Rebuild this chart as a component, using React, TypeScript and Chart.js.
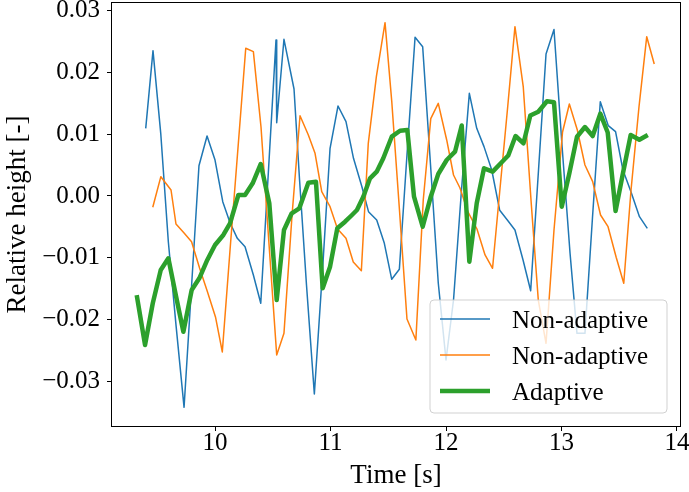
import React, { useEffect, useRef } from 'react';
import { Chart, registerables } from 'chart.js';

Chart.register(...registerables);

// ---- data ----
const blueT = [9.400, 9.463, 9.530, 9.596, 9.662, 9.732, 9.797, 9.861, 9.931, 10.000, 10.067, 10.130, 10.193, 10.260, 10.332, 10.396, 10.463, 10.528, 10.534, 10.597, 10.684, 10.732, 10.792, 10.860, 10.931, 10.996, 11.065, 11.134, 11.199, 11.270, 11.329, 11.400, 11.466, 11.530, 11.596, 11.662, 11.732, 11.798, 11.866, 11.933, 12.000, 12.065, 12.134, 12.202, 12.266, 12.329, 12.396, 12.465, 12.531, 12.597, 12.667, 12.733, 12.801, 12.866, 12.935, 13.004, 13.074, 13.134, 13.203, 13.268, 13.336, 13.405, 13.468, 13.532, 13.602, 13.675, 13.743];
const blueY = [0.01097, 0.02355, 0.01016, -0.00746, -0.0209, -0.03425, -0.01459, 0.00491, 0.00972, 0.00583, -0.00092, -0.00433, -0.00686, -0.00822, -0.0128, -0.01739, 0.00421, 0.02528, 0.01188, 0.0254, 0.01734, 0.0026, -0.01442, -0.03209, -0.0120, 0.00773, 0.01459, 0.01204, 0.00611, 0.00162, -0.00254, -0.00389, -0.00767, -0.0135, -0.01188, 0.00665, 0.02572, 0.0242, 0.00502, -0.0141, -0.02658, -0.01686, 0.00097, 0.01664, 0.01097, 0.008, 0.00421, -0.00232, -0.00389, -0.00551, -0.01037, -0.01535, 0.00421, 0.02301, 0.02699, 0.00827, -0.00929, -0.02226, -0.02226, -0.00357, 0.01529, 0.0114, 0.01043, 0.00421, 0.00065, -0.00335, -0.00524];

const orangeT = [9.461, 9.531, 9.619, 9.662, 9.732, 9.797, 9.866, 9.935, 10.004, 10.063, 10.130, 10.202, 10.266, 10.332, 10.398, 10.465, 10.534, 10.597, 10.667, 10.736, 10.808, 10.866, 10.924, 10.996, 11.061, 11.134, 11.197, 11.267, 11.327, 11.397, 11.472, 11.530, 11.597, 11.662, 11.739, 11.803, 11.868, 11.933, 12.006, 12.065, 12.121, 12.190, 12.268, 12.338, 12.403, 12.468, 12.534, 12.597, 12.669, 12.739, 12.799, 12.866, 12.935, 13.009, 13.068, 13.137, 13.203, 13.270, 13.338, 13.403, 13.474, 13.539, 13.602, 13.671, 13.738, 13.803];
const orangeY = [-0.00183, 0.00313, 0.00097, -0.00454, -0.006, -0.00741, -0.01167, -0.01556, -0.01961, -0.02528, -0.00875, 0.00854, 0.02394, 0.02339, 0.01123, -0.00713, -0.02577, -0.02225, -0.00308, 0.01301, 0.00989, 0.00692, 0.0007, -0.00173, -0.00535, -0.00686, -0.0107, -0.01211, 0.00854, 0.01934, 0.02809, 0.0154, -0.00227, -0.01994, -0.02334, -0.00065, 0.01253, 0.01502, 0.00908, 0.0034, 0.0013, -0.00259, -0.00535, -0.00956, -0.01172, 0.0013, 0.01442, 0.02744, 0.01767, -0.00146, -0.01686, -0.02387, -0.00551, 0.01037, 0.01491, 0.0107, 0.00502, 0.00232, -0.00308, -0.00498, -0.00997, -0.01415, 0.00097, 0.01447, 0.02582, 0.02139];

const greenT = [9.322, 9.394, 9.461, 9.530, 9.596, 9.662, 9.726, 9.798, 9.864, 9.933, 10.000, 10.072, 10.130, 10.202, 10.260, 10.326, 10.396, 10.470, 10.534, 10.597, 10.664, 10.730, 10.808, 10.874, 10.932, 10.996, 11.059, 11.126, 11.186, 11.229, 11.284, 11.342, 11.400, 11.457, 11.530, 11.602, 11.665, 11.723, 11.798, 11.868, 11.933, 12.006, 12.078, 12.136, 12.202, 12.266, 12.329, 12.404, 12.474, 12.539, 12.602, 12.671, 12.730, 12.799, 12.874, 12.935, 13.002, 13.068, 13.134, 13.203, 13.270, 13.336, 13.400, 13.468, 13.532, 13.599, 13.674, 13.747];
const greenY = [-0.01605, -0.02415, -0.01739, -0.01199, -0.0101, -0.0162, -0.0220, -0.01524, -0.01334, -0.01037, -0.00794, -0.00632, -0.00442, 0.00016, 0.00016, 0.00206, 0.00519, -0.00118, -0.01686, -0.00551, -0.0028, -0.0020, 0.00216, 0.00232, -0.01496, -0.01146, -0.00523, -0.00417, -0.00308, -0.00227, -0.00011, 0.00287, 0.00394, 0.00611, 0.00961, 0.01058, 0.0107, -0.00011, -0.00498, -0.00011, 0.00357, 0.00583, 0.00718, 0.01143, -0.01065, -0.00118, 0.00449, 0.00394, 0.0053, 0.00656, 0.00972, 0.00854, 0.01305, 0.01366, 0.01536, 0.01519, -0.00173, 0.00368, 0.00961, 0.01118, 0.00972, 0.01334, 0.01029, -0.00243, 0.00368, 0.00989, 0.00912, 0.00989];

const xTicks = [10, 11, 12, 13, 14];
const yTicks = [-0.03, -0.02, -0.01, 0, 0.01, 0.02, 0.03];
const seriesLabels = ['Non-adaptive', 'Non-adaptive', 'Adaptive'];
const xTitle = 'Time [s]';
const yTitle = 'Relative height [-]';
const xRange = [9.108, 14.026];
const yRange = [-0.03728, 0.03128];

const FONT = "'Liberation Serif', 'Times New Roman', serif";
const FS = 25;
const TFS = 27;
const COLORS = ['#1f77b4', '#ff7f0e', '#2ca02c'];
const WIDTHS = [1.5, 1.5, 4.5];

export default function App() {
  const ref = useRef<HTMLCanvasElement>(null);

  useEffect(() => {
    const canvas = ref.current;
    if (!canvas) return;
    const pts = (t: number[], y: number[]) => t.map((v, i) => ({ x: v, y: y[i] }));

    const framePlugin = {
      id: 'frame',
      afterDatasetsDraw(chart: any) {
        const { ctx, chartArea: a } = chart;
        ctx.save();
        ctx.strokeStyle = '#000';
        ctx.lineWidth = 1;
        ctx.strokeRect(Math.round(a.left) - 0.5, Math.round(a.top) - 0.5, Math.round(a.right - a.left) + 1, Math.round(a.bottom - a.top) + 1);
        ctx.restore();
      },
    };

    const legendPlugin = {
      id: 'boxLegend',
      afterDraw(chart: any) {
        const { ctx, chartArea: a } = chart;
        const bx = a.right - 250, by = a.bottom - 126, bw = 237, bh = 113, r = 4;
        ctx.save();
        ctx.beginPath();
        ctx.moveTo(bx + r, by);
        ctx.arcTo(bx + bw, by, bx + bw, by + bh, r);
        ctx.arcTo(bx + bw, by + bh, bx, by + bh, r);
        ctx.arcTo(bx, by + bh, bx, by, r);
        ctx.arcTo(bx, by, bx + bw, by, r);
        ctx.closePath();
        ctx.fillStyle = 'rgba(255,255,255,0.8)';
        ctx.fill();
        ctx.strokeStyle = 'rgba(204,204,204,0.9)';
        ctx.lineWidth = 1;
        ctx.stroke();
        chart.data.datasets.forEach((ds: any, i: number) => {
          const ly = by + 19 + i * 36;
          ctx.beginPath();
          ctx.strokeStyle = ds.borderColor;
          ctx.lineWidth = ds.borderWidth;
          ctx.lineCap = 'butt';
          ctx.moveTo(bx + 10, ly);
          ctx.lineTo(bx + 60, ly);
          ctx.stroke();
          ctx.fillStyle = '#000';
          ctx.font = `${FS}px ${FONT}`;
          ctx.textBaseline = 'alphabetic';
          ctx.textAlign = 'left';
          ctx.fillText(ds.label, bx + 82, ly + 8.5);
        });
        ctx.restore();
      },
    };

    const yFmt = (v: any) => {
      const n = Number(v);
      if (Math.abs(n) < 1e-9) return '0.00';
      return (n < 0 ? '\u2212' : '') + Math.abs(n).toFixed(2);
    };

    const chart = new Chart(canvas, {
      type: 'line',
      data: {
        datasets: [
          { label: seriesLabels[0], data: pts(blueT, blueY), borderColor: COLORS[0], borderWidth: WIDTHS[0], order: 2 },
          { label: seriesLabels[1], data: pts(orangeT, orangeY), borderColor: COLORS[1], borderWidth: WIDTHS[1], order: 1 },
          { label: seriesLabels[2], data: pts(greenT, greenY), borderColor: COLORS[2], borderWidth: WIDTHS[2], order: 0 },
        ].map((d) => ({ ...d, pointRadius: 0, tension: 0, fill: false, borderJoinStyle: 'round' as const, borderCapStyle: 'butt' as const })),
      },
      options: {
        responsive: false,
        animation: false,
        events: [],
        layout: { padding: { left: 0, right: 9, top: 3, bottom: 0 } },
        plugins: { legend: { display: false }, tooltip: { enabled: false } },
        scales: {
          x: {
            type: 'linear',
            min: xRange[0],
            max: xRange[1],
            afterBuildTicks: (s: any) => { s.ticks = xTicks.map((v) => ({ value: v })); },
            afterFit: (s: any) => { s.height = 66; s.paddingLeft = 0; s.paddingRight = 0; },
            grid: { display: true, drawOnChartArea: false, drawTicks: true, tickLength: 5, color: '#000', tickWidth: 1 },
            border: { display: false },
            ticks: { color: '#000', padding: 0, maxRotation: 0, font: { family: FONT, size: FS, lineHeight: 1 }, callback: (v: any) => String(v) },
            title: { display: true, text: xTitle, color: '#000', font: { family: FONT, size: TFS, lineHeight: 1.2 }, padding: { top: 0, bottom: 0 } },
          },
          y: {
            type: 'linear',
            min: yRange[0],
            max: yRange[1],
            afterBuildTicks: (s: any) => { s.ticks = yTicks.map((v) => ({ value: v })); },
            afterFit: (s: any) => { s.width = 112; s.paddingTop = 0; s.paddingBottom = 0; },
            grid: { display: true, drawOnChartArea: false, drawTicks: true, tickLength: 5, color: '#000', tickWidth: 1 },
            border: { display: false },
            ticks: { color: '#000', padding: 7, font: { family: FONT, size: FS }, callback: yFmt },
            title: { display: true, text: yTitle, color: '#000', font: { family: FONT, size: TFS, lineHeight: 1.2 }, padding: { top: 2, bottom: 0 } },
          },
        },
      },
      plugins: [framePlugin, legendPlugin],
    } as any);

    return () => chart.destroy();
  }, []);

  return (
    <div style={{ position: 'fixed', left: 0, top: 0, width: 689, height: 492, background: '#fff' }}>
      <canvas ref={ref} width={689} height={492} style={{ display: 'block', width: 689, height: 492 }} />
    </div>
  );
}
